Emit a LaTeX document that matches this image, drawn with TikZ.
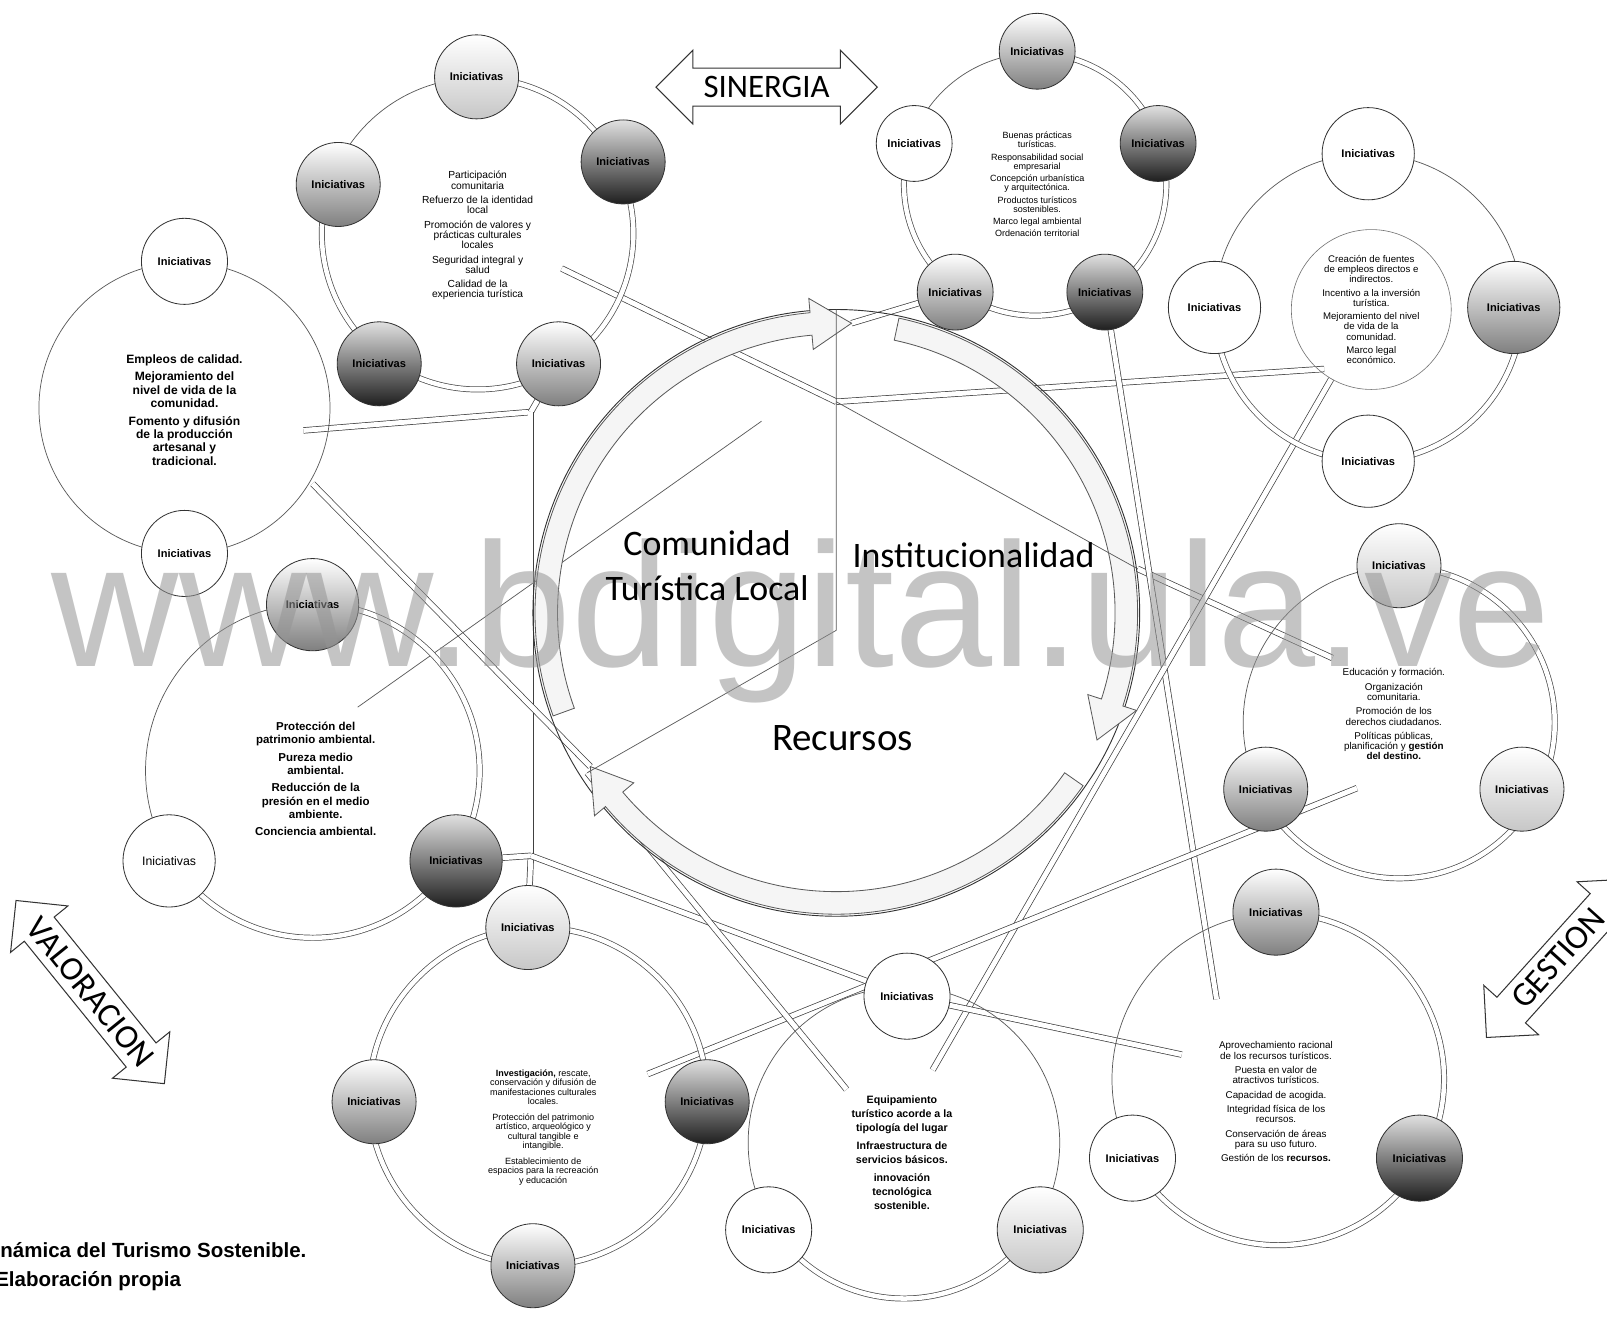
\documentclass[tikz,border=0pt]{standalone}
\usepackage{fontspec}
\setmainfont{Liberation Sans}
\newfontfamily\calibri{Carlito}
\usetikzlibrary{shapes.arrows, backgrounds}
\tikzstyle{ini}=[%
      circle, draw=black!80, fill=white, inner sep=0pt,
      font=\bfseries\fontsize{5.4}{6}\selectfont
]
\tikzstyle{lightball}=[top color=white, bottom color=black!22]
\tikzstyle{midball}=[top color=white, bottom color=black!50]
\tikzstyle{darkball}=[top color=black!12, bottom color=black!88]
\tikzstyle{tube}=[draw=black!75, line width=0.35pt, double=white, double distance=2.4pt]
\tikzstyle{fine}=[draw=black!65, line width=0.35pt]
\tikzstyle{ringtube}=[draw=black!70, line width=0.35pt, double=white, double distance=2.2pt]
\tikzstyle{ringband}=[draw=black!65, line width=0.4pt, fill=black!4]
\tikzstyle{note}=[align=center, inner sep=0pt]
\tikzstyle{bigarrow}=[%
      double arrow, draw=black!80, fill=white, line width=0.5pt,
      font=\calibri\fontsize{16}{16}\selectfont, double arrow head extend=8pt, inner sep=3pt
]

\begin{document}
\begin{tikzpicture}[x=0.5pt, y=-0.5pt]
    \useasboundingbox (0,0) rectangle (1568,1289);

    \node[circle, draw=black!80, line width=0.45pt, minimum size=296pt] (core) at (816,598) {};
    \begin{scope}[shift={(816,598)}]
        \draw[ringband] (160:272) arc[start angle=160, end angle=265, radius=272] -- (265:258) -- (273:283)
              -- (265:308) -- (265:294) arc[start angle=265, end angle=160, radius=294] -- cycle;
        \draw[ringband] (282:272) arc[start angle=282, end angle=378, radius=272] -- (378:258) -- (386:283)
              -- (378:308) -- (378:294) arc[start angle=378, end angle=282, radius=294] -- cycle;
        \draw[ringband] (35:272) arc[start angle=35, end angle=140, radius=272] -- (140:258) -- (148:283)
              -- (140:308) -- (140:294) arc[start angle=140, end angle=35, radius=294] -- cycle;
        \coordinate (tipA) at (273:283);
        \coordinate (tipB) at (386:283);
        \coordinate (tipC) at (148:283);
    \end{scope}

    \coordinate (crest) at (816,302);
    \coordinate (hub)   at (816,392);
    \coordinate (ctr)   at (816,615);
    \coordinate (sw)    at (573,754);
    \coordinate (ieast) at (1110,555);
    \draw[fine] (crest) -- (hub) -- (ctr) -- (sw);
    \draw[fine] (hub) -- (ieast);

    \node[bigarrow, minimum height=108pt, minimum width=36pt] (sinergia) at (748,85) {SINERGIA};
    \node[bigarrow, rotate=-51, minimum height=115pt, minimum width=36pt, font=\calibri\fontsize{16.5}{16.5}\selectfont] (valor) at (88,968) {VALORACION};
    \node[bigarrow, rotate=48, minimum height=104pt, minimum width=36pt, font=\calibri\fontsize{16.5}{16.5}\selectfont] (gestion) at (1520,935) {GESTION};

    % cluster a
    \draw[fine] (466,228) circle[radius=152];
    \draw[ringtube] (466,228) ++(-90:152) arc[start angle=-90, end angle=198, radius=152];
    \node[ini, lightball, minimum size=41pt] (a1) at (465,75)  {Iniciativas};
    \node[ini, darkball,  minimum size=41pt] (a2) at (608,158) {Iniciativas};
    \node[ini, midball,   minimum size=41pt] (a3) at (545,355) {Iniciativas};
    \node[ini, darkball,  minimum size=41pt] (a4) at (370,355) {Iniciativas};
    \node[ini, midball,   minimum size=41pt] (a5) at (330,180) {Iniciativas};
    \node[note, font=\fontsize{5}{5}\selectfont] (atxt) at (466,230)
        {Participación\\comunitaria\\[2pt]Refuerzo de la identidad\\local\\[2pt]Promoción de valores y\\prácticas culturales\\locales\\[2pt]Seguridad integral y\\salud\\[2pt]Calidad de la\\experiencia turística};

    % cluster b
    \draw[fine] (1010,180) circle[radius=128];
    \draw[ringtube] (1010,180) ++(-90:128) arc[start angle=-90, end angle=199, radius=128];
    \node[ini, midball,  minimum size=37pt] (b1) at (1012,50)  {Iniciativas};
    \node[ini, darkball, minimum size=37pt] (b2) at (1130,140) {Iniciativas};
    \node[ini, darkball, minimum size=37pt] (b3) at (1078,285) {Iniciativas};
    \node[ini, midball,  minimum size=37pt] (b4) at (932,285)  {Iniciativas};
    \node[ini,           minimum size=37pt] (b5) at (892,140)  {Iniciativas};
    \node[note, font=\fontsize{4.4}{4.5}\selectfont] (btxt) at (1012,180)
        {Buenas prácticas\\turísticas.\\[1.5pt]Responsabilidad social\\empresarial\\[1.5pt]Concepción urbanística\\y arquitectónica.\\[1.5pt]Productos turísticos\\sostenibles.\\[1.5pt]Marco legal ambiental\\[1.5pt]Ordenación territorial};

    % cluster c
    \draw[fine] (1335,300) circle[radius=150];
    \draw[ringtube] (1335,300) ++(0:150) arc[start angle=0, end angle=180, radius=150];
    \node[ini,          minimum size=45pt] (c1) at (1335,150) {Iniciativas};
    \node[ini,          minimum size=45pt] (c2) at (1185,300) {Iniciativas};
    \node[ini, midball, minimum size=45pt] (c3) at (1477,300) {Iniciativas};
    \node[ini,          minimum size=45pt] (c4) at (1335,450) {Iniciativas};
    \node[note, circle, draw=black!55, line width=0.3pt, minimum size=78pt, font=\fontsize{4.7}{5}\selectfont] (ctxt) at (1338,302)
        {Creación de fuentes\\de empleos directos e\\indirectos.\\[1.5pt]Incentivo a la inversión\\turística.\\[1.5pt]Mejoramiento del nivel\\de vida de la\\comunidad.\\[1.5pt]Marco legal\\económico.};

    % cluster d
    \draw[fine] (180,398) circle[radius=142];
    \node[ini, minimum size=42pt] (d1) at (180,255) {Iniciativas};
    \node[ini, minimum size=42pt] (d2) at (180,540) {Iniciativas};
    \node[note, font=\bfseries\fontsize{5.9}{6.5}\selectfont] (dtxt) at (180,400)
        {Empleos de calidad.\\[2pt]Mejoramiento del\\nivel de vida de la\\comunidad.\\[2pt]Fomento y difusión\\de la producción\\artesanal y\\tradicional.};

    % cluster e
    \draw[fine] (305,752) circle[radius=163];
    \draw[ringtube] (305,752) ++(-90:163) arc[start angle=-90, end angle=148, radius=163];
    \node[ini, midball,  minimum size=45pt] (e1) at (305,590) {Iniciativas};
    \node[ini, minimum size=45pt, font=\fontsize{6}{6}\selectfont] (e2) at (165,840) {Iniciativas};
    \node[ini, darkball, minimum size=45pt] (e3) at (445,840) {Iniciativas};
    \node[note, font=\bfseries\fontsize{5.6}{6.5}\selectfont] (etxt) at (308,760)
        {Protección del\\patrimonio ambiental.\\[2pt]Pureza medio\\ambiental.\\[2pt]Reducción de la\\presión en el medio\\ambiente.\\[2pt]Conciencia ambiental.};

    % cluster f
    \draw[ringtube] (525,1070) circle[radius=165];
    \node[ini, lightball, minimum size=41pt] (f1) at (515,905)  {Iniciativas};
    \node[ini, midball,   minimum size=41pt] (f2) at (365,1075) {Iniciativas};
    \node[ini, darkball,  minimum size=41pt] (f3) at (690,1075) {Iniciativas};
    \node[ini, midball,   minimum size=41pt] (f4) at (520,1235) {Iniciativas};
    \node[note, font=\fontsize{4.4}{4.6}\selectfont] (ftxt) at (530,1100)
        {\textbf{Investigación,} rescate,\\conservación y difusión de\\manifestaciones culturales\\locales.\\[3pt]Protección del patrimonio\\artístico, arqueológico y\\cultural tangible e\\intangible.\\[3pt]Establecimiento de\\espacios para la recreación\\y educación};

    % cluster g
    \draw[fine] (882,1115) circle[radius=152];
    \draw[ringtube] (882,1115) ++(33:152) arc[start angle=33, end angle=147, radius=152];
    \node[ini,            minimum size=42pt] (g1) at (885,972)   {Iniciativas};
    \node[ini,            minimum size=42pt] (g2) at (750,1200)  {Iniciativas};
    \node[ini, lightball, minimum size=42pt] (g3) at (1015,1200) {Iniciativas};
    \node[note, font=\bfseries\fontsize{5.2}{6.8}\selectfont] (gtxt) at (880,1125)
        {Equipamiento\\turístico acorde a la\\tipología del lugar\\[2pt]Infraestructura de\\servicios básicos.\\[2pt]innovación\\tecnológica\\sostenible.};

    % cluster h
    \draw[fine] (1247,1053) circle[radius=162];
    \draw[ringtube] (1247,1053) ++(-90:162) arc[start angle=-90, end angle=151, radius=162];
    \node[ini, midball,  minimum size=42pt] (h1) at (1245,890)  {Iniciativas};
    \node[ini,           minimum size=42pt] (h2) at (1105,1130) {Iniciativas};
    \node[ini, darkball, minimum size=42pt] (h3) at (1385,1130) {Iniciativas};
    \node[note, font=\fontsize{4.8}{5}\selectfont] (htxt) at (1245,1075)
        {Aprovechamiento racional\\de los recursos turísticos.\\[2pt]Puesta en valor de\\atractivos turísticos.\\[2pt]Capacidad de acogida.\\[2pt]Integridad física de los\\recursos.\\[2pt]Conservación de áreas\\para su uso futuro.\\[2pt]Gestión de los \textbf{recursos.}};

    % cluster i
    \draw[fine] (1365,705) circle[radius=152];
    \draw[ringtube] (1365,705) ++(-90:152) arc[start angle=-90, end angle=153, radius=152];
    \node[ini, lightball, minimum size=41pt] (i1) at (1365,552) {Iniciativas};
    \node[ini, midball,   minimum size=41pt] (i2) at (1235,770) {Iniciativas};
    \node[ini, lightball, minimum size=41pt] (i3) at (1485,770) {Iniciativas};
    \node[note, font=\fontsize{4.8}{5}\selectfont] (itxt) at (1360,697)
        {Educación y formación.\\[2pt]Organización\\comunitaria.\\[2pt]Promoción de los\\derechos ciudadanos.\\[2pt]Políticas públicas,\\planificación y \textbf{gestión}\\\textbf{del destino.}};

    \coordinate (jA)   at (518,402);
    \coordinate (jE)   at (518,835);
    \coordinate (dr)   at (296,420);
    \coordinate (dl)   at (305,472);
    \coordinate (ein)  at (349,690);
    \coordinate (cin)  at (743,411);
    \coordinate (ain)  at (548,262);
    \coordinate (cin2) at (1292,360);
    \coordinate (iin)  at (1300,642);
    \coordinate (hin)  at (1187,975);
    \coordinate (gin)  at (910,1044);
    \coordinate (fin)  at (632,1048);
    \coordinate (iin2) at (1324,769);
    \coordinate (gin2) at (826,1063);
    \coordinate (hin2) at (1153,1029);

    \begin{scope}[on background layer]
        \fill[white] (0,0) rectangle (1568,1289);
        \draw[tube] (dr) -- (jA);
        \draw[tube] (a3) -- (jA);
        \draw[tube] (jA) -- (jE);
        \draw[tube] (jE) -- (f1);
        \draw[tube] (e3) -- (jE);
        \draw[tube] (jE) -- (g1);
        \draw[tube] (dl) -- (tipC);
        \draw[fine] (ein) -- (cin);
        \draw[tube] (ain) -- (hub);
        \draw[tube] (hub) -- (cin2);
        \draw[tube] (ieast) -- (iin);
        \draw[tube] (b3) -- (hin);
        \draw[tube] (ctxt) -- (gin);
        \draw[tube] (fin) -- (iin2);
        \draw[tube] (sw) -- (gin2);
        \draw[tube] (g1) -- (hin2);
        \draw[tube] (b4) -- (tipA);
    \end{scope}

    \node[anchor=base west, inner sep=0pt, font=\bfseries\fontsize{10}{10}\selectfont] (cap1) at (0,1227) {námica del Turismo Sostenible.};
    \node[anchor=base west, inner sep=0pt, font=\bfseries\fontsize{10}{10}\selectfont] (cap2) at (-5,1255) {Elaboración propia};

    \node[anchor=base, inner sep=0pt, font=\fontsize{86}{86}\selectfont, text=black!42, text opacity=0.55] (mark) at (782,650) {www.bdigital.ula.ve};

    \node[font=\calibri\fontsize{17.5}{22}\selectfont, align=center] (comunidad) at (690,552) {Comunidad\\Turística Local};
    \node[font=\calibri\fontsize{17.5}{20}\selectfont] (inst) at (950,542) {Institucionalidad};
    \node[font=\calibri\fontsize{19}{20}\selectfont] (rec) at (822,720) {Recursos};
\end{tikzpicture}
\end{document}
